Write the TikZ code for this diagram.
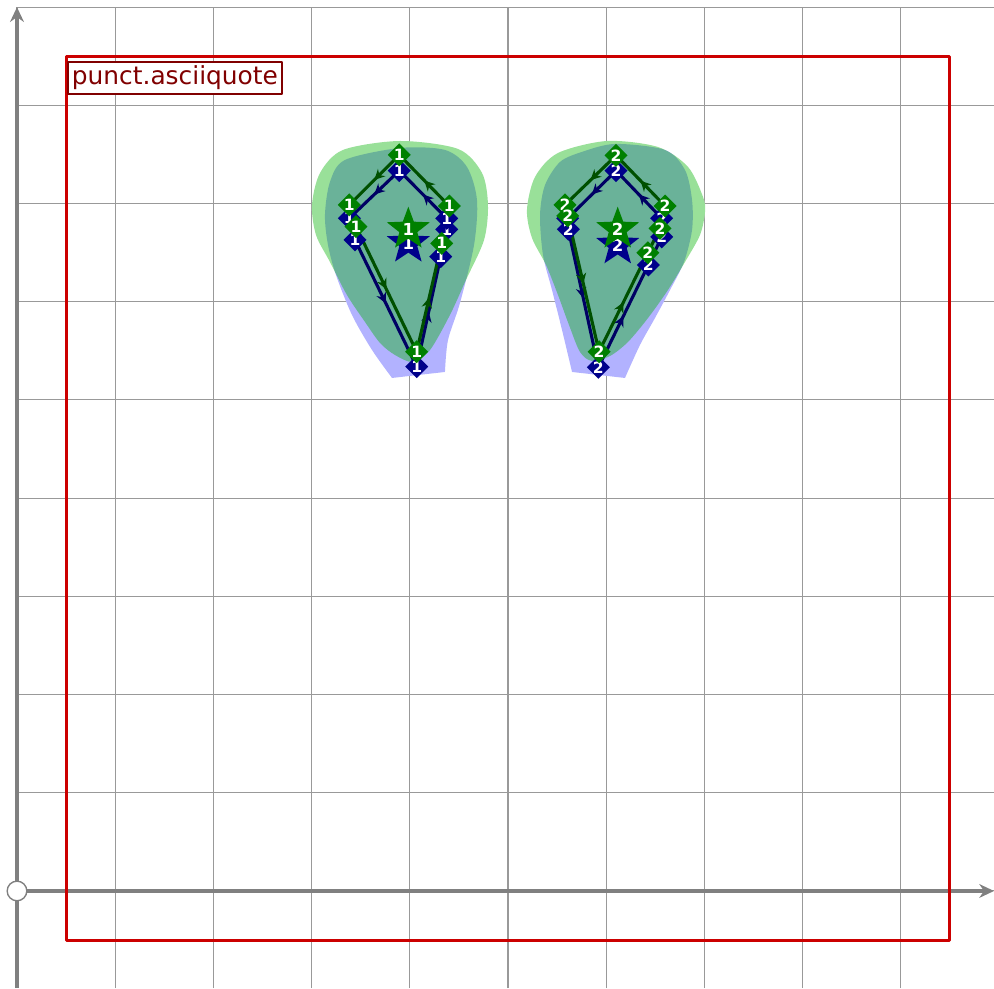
\documentclass[tikz,border=0pt]{standalone}
\usepackage{fontspec}
\setmainfont{DejaVu Sans}
\usetikzlibrary{arrows.meta,shapes.geometric,decorations.markings}

\definecolor{ptblue}{RGB}{0,0,139}
\definecolor{ptgreen}{RGB}{0,128,0}
\definecolor{lnblue}{RGB}{0,0,100}
\definecolor{lngreen}{RGB}{0,80,0}
\definecolor{hullgreen}{RGB}{0,178,0}
\definecolor{boxred}{RGB}{204,0,0}
\definecolor{labelred}{RGB}{128,0,0}

\pgfdeclarelayer{lines}
\pgfdeclarelayer{top}
\pgfsetlayers{main,lines,top}

\begin{document}
\begin{tikzpicture}[>=Stealth, line join=round,
  bluept/.style={diamond, fill=ptblue, text=white, inner sep=0pt,
    minimum size=2.4mm, font=\fontsize{4.5}{4.5}\selectfont\bfseries},
  greenpt/.style={bluept, fill=ptgreen},
  bluestar/.style={star, star points=5, star point ratio=2.4, fill=ptblue,
    text=white, inner sep=0pt, minimum size=4.6mm,
    font=\fontsize{4.8}{4.8}\selectfont\bfseries},
  greenstar/.style={bluestar, fill=ptgreen},
  blueline/.style={draw=lnblue, line width=0.9pt},
  greenline/.style={draw=lngreen, line width=0.9pt},
  midarrow/.style={postaction={decorate}, decoration={markings,
    mark=at position 0.5 with {\arrow{Stealth[length=3pt,width=3pt]}}}}]
  \useasboundingbox (-0.173,-0.988) rectangle (9.949,9.073);
  % grid and axes
  \draw[black!40, line width=0.3pt] (0,-0.988) grid (9.949,9);
  \draw[->, gray, line width=1pt, arrows={-Stealth[length=1.5mm,width=1.4mm]}] (0,-0.988) -- (0,9.0);
  \draw[->, gray, line width=1pt, arrows={-Stealth[length=1.5mm,width=1.4mm]}] (0,0) -- (9.949,0);
  \node[circle, draw=gray, fill=white, minimum size=2mm, inner sep=0pt, line width=0.4pt] (origin) at (0,0) {};
  % glyph box
  \draw[boxred, line width=0.9pt] (0.5,-0.5) rectangle (9.5,8.5);
  \node[anchor=north west, draw=labelred, fill=white, text=labelred, line width=0.6pt,
    inner sep=1.1pt, font=\fontsize{7.2}{8}\selectfont] (glyphname) at (0.51,8.45) {punct.asciiquote};
  % hulls of the two strokes
  \path[save path=\hullBa] plot[smooth] coordinates {(4.358,5.285) (4.389,5.611) (4.511,5.988)
    (4.654,6.578) (4.684,7.037) (4.582,7.373) (4.358,7.546) (3.900,7.566) (3.340,7.444)
    (3.187,7.220) (3.136,6.884) (3.167,6.578) (3.248,6.273) (3.411,5.866) (3.615,5.509)
    (3.819,5.224)} -- cycle;
  \path[save path=\hullGa] plot[smooth cycle] coordinates {(3.004,6.986) (3.086,7.312) (3.320,7.546)
    (3.900,7.637) (4.491,7.556) (4.735,7.312) (4.796,6.986) (4.756,6.629) (4.572,6.222)
    (4.409,5.866) (4.206,5.509) (4.033,5.387) (3.849,5.458) (3.697,5.580) (3.544,5.794)
    (3.360,6.069) (3.187,6.405) (3.045,6.680)};
  \path[save path=\hullBb] plot[smooth] coordinates {(6.191,5.224) (6.344,5.560) (6.497,5.835)
    (6.650,6.120) (6.792,6.405) (6.874,6.731) (6.874,7.037) (6.802,7.342) (6.599,7.546)
    (6.090,7.607) (5.754,7.526) (5.530,7.424) (5.377,7.189) (5.326,6.884) (5.356,6.477)
    (5.448,6.120) (5.550,5.713) (5.652,5.285)} -- cycle;
  \path[save path=\hullGb] plot[smooth cycle] coordinates {(5.193,6.935) (5.275,7.271) (5.509,7.515)
    (6.008,7.637) (6.527,7.576) (6.833,7.373) (6.986,7.067) (7.006,6.914) (6.955,6.680)
    (6.802,6.405) (6.629,6.120) (6.426,5.835) (6.222,5.591) (6.039,5.448) (5.855,5.397)
    (5.733,5.489) (5.621,5.764) (5.509,6.069) (5.387,6.375) (5.244,6.650)};
  \foreach \h in {\hullBa,\hullGa,\hullBb,\hullGb} \fill[white, use path=\h];
  \foreach \h in {\hullBa,\hullBb} \fill[blue, fill opacity=0.3, use path=\h];
  \foreach \h in {\hullGa,\hullGb} \fill[hullgreen, fill opacity=0.4, use path=\h];
  % on-curve points
  \begin{pgfonlayer}{top}
    \foreach \n/\x/\y in {a/3.893/7.335, b/3.384/6.850, c/3.442/6.629, d/4.070/5.339,
      e/4.315/6.459, f/4.376/6.737, g/4.376/6.849}
      \node[bluept] (b1\n) at (\x,\y) {1};
    \foreach \n/\x/\y in {a/6.100/7.335, b/5.608/6.850, c/5.614/6.738, d/5.920/5.332,
      e/6.429/6.375, f/6.565/6.660, g/6.565/6.850}
      \node[bluept] (b2\n) at (\x,\y) {2};
    \node[bluestar] (b1s) at (3.985,6.596) {1};
    \node[bluestar] (b2s) at (6.117,6.578) {2};
    \foreach \n/\x/\y in {a/3.893/7.495, b/3.384/6.986, c/3.452/6.765, d/4.070/5.491,
      e/4.325/6.595, f/4.402/6.975}
      \node[greenpt] (g1\n) at (\x,\y) {1};
    \foreach \n/\x/\y in {a/6.100/7.490, b/5.580/6.986, c/5.608/6.874, d/5.927/5.491,
      e/6.423/6.499, f/6.548/6.747, g/6.599/6.975}
      \node[greenpt] (g2\n) at (\x,\y) {2};
    \node[greenstar] (g1s) at (3.985,6.738) {1};
    \node[greenstar] (g2s) at (6.117,6.738) {2};
  \end{pgfonlayer}
  % outlines
  \begin{pgfonlayer}{lines}
    \foreach \u/\v in {a/b,c/d,d/e,g/a} {
      \draw[blueline, midarrow] (b1\u.center) -- (b1\v.center);
      \draw[blueline, midarrow] (b2\u.center) -- (b2\v.center);
      \draw[greenline, midarrow] (g2\u.center) -- (g2\v.center);
    }
    \foreach \u/\v in {b/c,e/f,f/g} {
      \draw[blueline] (b1\u.center) -- (b1\v.center);
      \draw[blueline] (b2\u.center) -- (b2\v.center);
      \draw[greenline] (g2\u.center) -- (g2\v.center);
    }
    \foreach \u/\v in {a/b,c/d,d/e,f/a}
      \draw[greenline, midarrow] (g1\u.center) -- (g1\v.center);
    \foreach \u/\v in {b/c,e/f}
      \draw[greenline] (g1\u.center) -- (g1\v.center);
  \end{pgfonlayer}
\end{tikzpicture}
\end{document}
